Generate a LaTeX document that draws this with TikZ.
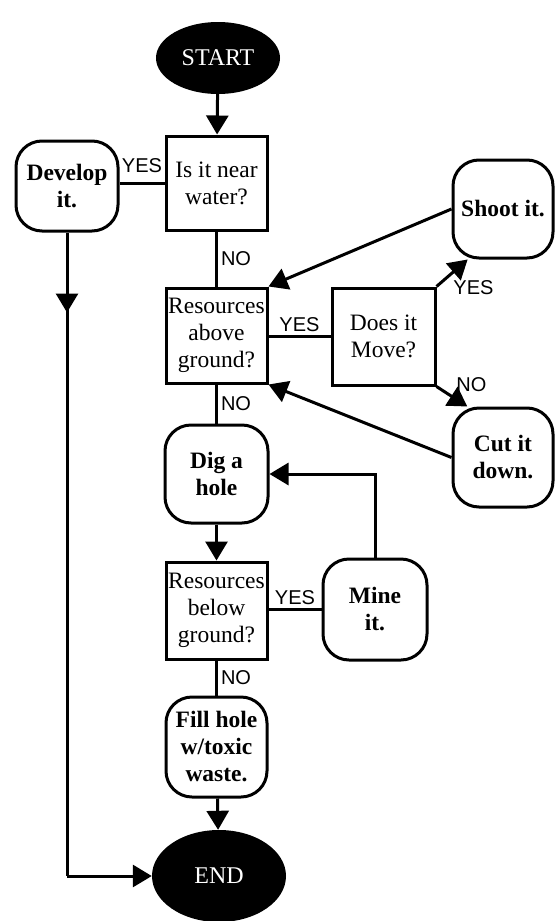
\documentclass[tikz,border=0pt]{standalone}
\usepackage{fontspec}
\setmainfont{Liberation Serif}
\setsansfont{Liberation Sans}
\usepackage{tikz}
\usetikzlibrary{arrows.meta,shapes.geometric,decorations.markings,calc}

\tikzset{
  terminal/.style={ellipse,fill=black,text=white,inner sep=0pt,font=\fontsize{24}{28}\selectfont},
  decision/.style={rectangle,draw,line width=3pt,minimum width=101pt,minimum height=96pt,inner sep=2pt,align=center,font=\fontsize{23.5}{27}\selectfont},
  action/.style={rectangle,draw,rounded corners=26pt,line width=3pt,minimum width=101pt,minimum height=98pt,inner sep=2pt,align=center,font=\fontsize{23.5}{27}\selectfont\bfseries},
  flow/.style={line width=3pt,-{Triangle[length=19pt,width=22pt]}},
  link/.style={line width=3pt},
  answer/.style={font=\fontsize{20}{23}\selectfont\sffamily,inner sep=3pt}
}

\begin{document}
\begin{tikzpicture}[x=1pt,y=-1pt]
\useasboundingbox[fill=white] (0,0) rectangle (557,921);

\node[terminal,minimum width=124pt,minimum height=72pt] (start) at (218,58) {START};
\node[decision,minimum height=94pt] (water) at (216.5,183) {Is it near\\water?};
\node[action,minimum width=102pt,minimum height=90pt] (develop) at (67,186) {Develop\\it.};
\node[decision,minimum height=95pt] (above) at (216.5,335.5) {Resources\\above\\ground?};
\node[decision,minimum width=103pt,minimum height=97pt] (move) at (383.5,336.5) {Does it\\Move?};
\node[action,minimum width=100pt] (shoot) at (503,209) {Shoot it.};
\node[action,minimum width=100pt,minimum height=99pt] (cut) at (503,457.5) {Cut it\\down.};
\node[action,minimum width=103pt] (dig) at (216.5,474) {Dig a\\hole};
\node[decision,minimum height=97pt] (below) at (216.5,610.5) {Resources\\below\\ground?};
\node[action,minimum width=104pt,minimum height=101pt] (mine) at (375,609.5) {Mine\\it.};
\node[action,minimum height=100pt] (fill) at (216.5,747) {Fill hole\\w/toxic\\waste.};
\node[terminal,minimum width=134pt,minimum height=92pt] (end) at (219,876) {END};

\coordinate (corner) at (develop.south |- end.west);

\draw[flow] (start) -- (water);
\draw[link] (water.west) -- node[answer,above,yshift=6pt] {YES} (water.west -| develop.east);
\draw[link] (water) -- node[answer,right] {NO} (above);
\draw[link,postaction={decorate},decoration={markings,mark=at position 80pt with {\arrow{Triangle[length=19pt,width=22pt]}}}] (develop.south) -- (corner);
\draw[flow] (corner) -- (end.west);
\draw[link] (move.west) -- node[answer,above] {YES} (move.west -| above.east);
\draw[flow] (move.north east) -- node[answer,pos=0.4,below right] {YES} (shoot.235);
\draw[flow] (move.south east) -- node[answer,pos=0.5,above right] {NO} (cut.125);
\draw[flow] (shoot.west) -- (above.north east);
\draw[flow] (cut.west) -- (above.south east);
\draw[link] (above) -- node[answer,right] {NO} (dig);
\draw[flow] (dig) -- (below);
\draw[link] (mine.west) -- node[answer,above] {YES} (mine.west -| below.east);
\draw[flow] (mine.north) |- (dig.east);
\draw[link] (below) -- node[answer,right] {NO} (fill);
\draw[flow] (fill) -- (end);
\end{tikzpicture}
\end{document}
